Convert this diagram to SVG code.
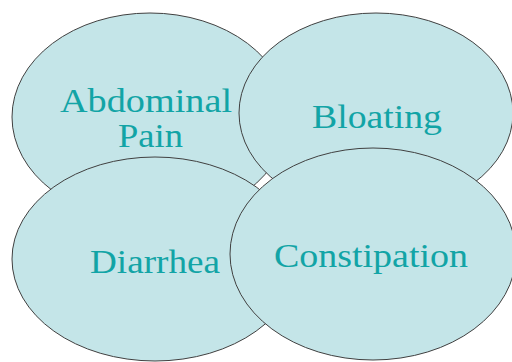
<svg xmlns="http://www.w3.org/2000/svg" width="512" height="362" viewBox="0 0 512 362">
<style>
.e{fill:#c4e5e8;stroke:#404040;stroke-width:1}
.t{font-family:"Liberation Serif",serif;font-size:33px;fill:#12a4a6}
</style>
<rect width="512" height="362" fill="#fff"/>
<g id="abdominal"><ellipse class="e" cx="150" cy="117" rx="138" ry="104"/>
<text class="t" x="60" y="112" textLength="172" lengthAdjust="spacingAndGlyphs">Abdominal</text>
<text class="t" x="118" y="147" textLength="65" lengthAdjust="spacingAndGlyphs">Pain</text></g>
<g id="bloating"><ellipse class="e" cx="376" cy="113" rx="137" ry="100"/>
<text class="t" x="312" y="128" textLength="130" lengthAdjust="spacingAndGlyphs">Bloating</text></g>
<g id="diarrhea"><ellipse class="e" cx="155" cy="259" rx="143" ry="102"/>
<text class="t" x="90" y="273" textLength="130" lengthAdjust="spacingAndGlyphs">Diarrhea</text></g>
<g id="constipation"><ellipse class="e" cx="373" cy="254" rx="143" ry="106"/>
<text class="t" x="274" y="267" textLength="194" lengthAdjust="spacingAndGlyphs">Constipation</text></g>
<g id="connectors"/>
</svg>
